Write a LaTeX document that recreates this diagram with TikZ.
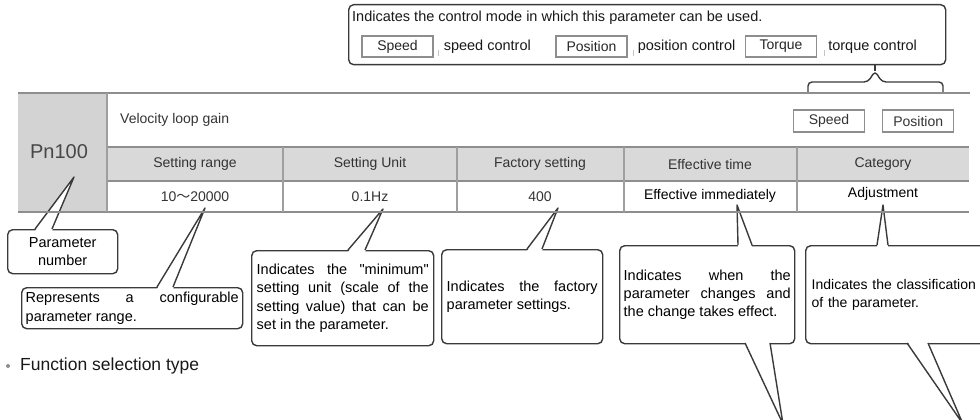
\documentclass[tikz,border=0pt]{standalone}
\usepackage{fontspec}
\setmainfont{Liberation Sans}
\newfontfamily\cjk{Noto Sans CJK SC}
\usepackage{xcolor}
\definecolor{cLine}{HTML}{8E8E8E}
\definecolor{cHead}{HTML}{D9D9D9}
\definecolor{cCell}{HTML}{D3D3D3}
\definecolor{cText}{HTML}{333333}
\definecolor{cNote}{HTML}{3A3A3A}
\definecolor{cTick}{HTML}{C4C4C4}
\usepackage{tikz}
\usetikzlibrary{positioning,calc}
\setlength\parindent{0pt}
\hyphenpenalty=10000
\exhyphenpenalty=10000
\tolerance=10000
\tikzset{
  tbl-line/.style={draw=cLine,line width=2pt},
  tbl-sep/.style={draw=cLine!85,line width=1.3pt},
  tbl-text/.style={text=cText,inner sep=0pt,font=\fontsize{14}{16}\selectfont},
  mode-box/.style={draw=cLine,line width=1.2pt,fill=white,minimum width=71pt,
    minimum height=21pt,inner sep=0pt,font=\fontsize{14}{16}\selectfont,text=black!85},
  note-box/.style={draw=cNote,line width=1.4pt,rounded corners=5pt,fill=white,
    inner ysep=2pt,anchor=north west,font=\fontsize{14.5}{18.3}\selectfont},
  note-line/.style={draw=cNote,line width=1.4pt,line join=round},
  plain-text/.style={inner sep=0pt,text=black!90,font=\fontsize{14.5}{17}\selectfont},
  tick/.style={draw=cTick,line width=1pt},
}
% pointer of a note: base left, tip, base right, shift into the box
\newcommand\notetip[4]{%
  \fill[white] ($#1+(0,#4)$) -- #2 -- ($#3+(0,#4)$) -- cycle;
  \draw[note-line] #1 -- #2 -- #3;}

\begin{document}
\begin{tikzpicture}[x=1pt,y=-1pt]
  \useasboundingbox (0,0) rectangle (980,420);
  \clip (0,0) rectangle (980,420);

  % table shading and texts
  \fill[cCell] (18,93) rectangle (107,212);
  \fill[cHead] (107,147) rectangle (969,181);
  \node[tbl-text,text=cText!90,font=\fontsize{20}{22}\selectfont] (pn) at (59,152) {Pn100};
  \node[tbl-text,anchor=west] (name) at (120,120) {Velocity loop gain};
  \node[mode-box,text=cText,minimum height=22pt] (tbl-speed) at (829,121) {Speed};
  \node[mode-box,text=cText,minimum height=22pt,right=17pt of tbl-speed] (tbl-pos) {Position};

  \node[tbl-text] (h-range) at (195,164) {Setting range};
  \node[tbl-text] (h-unit)  at (370,164) {Setting Unit};
  \node[tbl-text] (h-fact)  at (540,164) {Factory setting};
  \node[tbl-text] (h-time)  at (710,164) {Effective time};
  \node[tbl-text] (h-cat)   at (883,164) {Category};
  \node[tbl-text] (v-range) at (195,197) {10{\cjk ～}20000};
  \node[tbl-text] (v-unit)  at (370,197) {0.1Hz};
  \node[tbl-text] (v-fact)  at (540,197) {400};
  \node[tbl-text,text=black] (v-time) at (710,196) {Effective immediately};
  \node[tbl-text,text=black] (v-cat)  at (883,194) {Adjustment};

  % control modes
  \node[note-box,minimum width=597pt,minimum height=60pt,inner sep=0pt] (modes) at (348,4) {};
  \node[plain-text,anchor=west] (modes-txt) at (352,18)
    {Indicates the control mode in which this parameter can be used.};
  \node[mode-box] (m-speed) at (397.5,46.5) {Speed};
  \node[plain-text,right=10pt of m-speed] (m-speed-txt) {speed control};
  \node[mode-box] (m-pos) at (591.5,46.5) {Position};
  \node[plain-text,right=10pt of m-pos] (m-pos-txt) {position control};
  \node[mode-box] (m-torque) at (781,46.5) {Torque};
  \node[plain-text,right=11pt of m-torque] (m-torque-txt) {torque control};
  \draw[tick] ($(m-speed.east)+(5,4)$) -- ++(0,6);
  \draw[tick] ($(m-pos.east)+(6,4)$) -- ++(0,6);
  \draw[tick] ($(m-torque.east)+(7,4)$) -- ++(0,6);
  \coordinate (brace-peak) at (875,71);
  \draw[note-line,rounded corners=4pt] (808,93) |- (868,82) -- (brace-peak)
    -- (882,82) -| (943,93);
  \draw[note-line] (brace-peak) -- (modes.south -| brace-peak);

  % notes under the table
  \node[note-box,text width=100pt,inner xsep=5pt,minimum height=44pt,align=center]
    (n-num) at (7,229) {Parameter\\number};
  \coordinate (num-tip) at (74,177);
  \notetip{(35,229)}{(num-tip)}{(52,229)}{2}

  \node[note-box,text width=213pt,inner xsep=4pt,minimum height=41pt,align=justify]
    (n-range) at (21,287) {Represents a configurable parameter range.};
  \coordinate (range-tip) at (205,208);
  \notetip{(157,287)}{(range-tip)}{(173,287)}{2}

  \node[note-box,text width=172pt,inner xsep=5pt,minimum height=95pt,align=justify]
    (n-unit) at (251,250) {Indicates the \textquotedbl minimum\textquotedbl{} setting
    unit (scale of the setting value) that can be set in the parameter.};
  \coordinate (unit-tip) at (383,209);
  \notetip{(348,250)}{(unit-tip)}{(365,250)}{2}

  \node[note-box,text width=151pt,inner xsep=5pt,minimum height=94pt,align=justify]
    (n-fact) at (441,249) {Indicates the factory parameter settings.};
  \coordinate (fact-tip) at (558,208);
  \notetip{(527,249)}{(fact-tip)}{(542,249)}{2}

  \node[note-box,text width=167pt,inner xsep=4pt,minimum height=98pt,align=justify]
    (n-time) at (619,245) {Indicates when the parameter changes and the change
    takes effect.};
  \coordinate (time-tip) at (737,205);
  \notetip{(738,245)}{(time-tip)}{(752,245)}{2}
  \coordinate (time-low) at (783,424);
  \notetip{(745,343)}{(time-low)}{(770,343)}{-2}

  \node[note-box,text width=184pt,inner xsep=6pt,minimum height=98pt,align=left,
    font=\fontsize{14}{18.3}\selectfont]
    (n-cat) at (805,245) {Indicates the classification\\of the parameter.};
  \coordinate (cat-tip) at (883,205);
  \notetip{(877,245)}{(cat-tip)}{(888,245)}{2}
  \coordinate (cat-low) at (963,424);
  \notetip{(907,343)}{(cat-low)}{(928,343)}{-2}

  % table rules
  \draw[tbl-line] (18,93) -- (970,93);
  \draw[tbl-line] (107,147) -- (969,147);
  \draw[tbl-line] (107,181) -- (969,181);
  \draw[tbl-line] (18,212) -- (969,212);
  \draw[tbl-sep] (107,93) -- (107,212);
  \foreach \x in {283,457,624,797}
    \draw[tbl-sep] (\x,147) -- (\x,212);

  % next section
  \node[circle,fill=cLine,inner sep=0pt,minimum size=4pt] (bullet) at (8,366) {};
  \node[plain-text,anchor=west,font=\fontsize{17.5}{20}\selectfont] (fn-sel) at (20,366)
    {Function selection type};
\end{tikzpicture}
\end{document}
